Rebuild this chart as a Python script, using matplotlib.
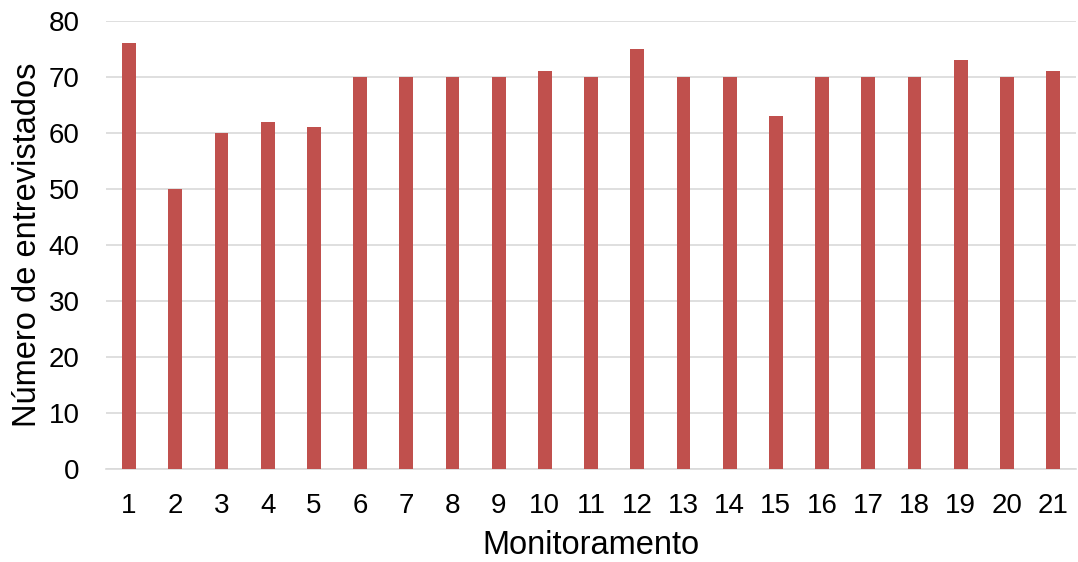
import matplotlib
matplotlib.use("Agg")
import matplotlib.pyplot as plt

plt.rcParams['font.family'] = ['Liberation Sans', 'DejaVu Sans']

monitoramentos = [str(i) for i in range(1, 22)]
entrevistados = [76, 50, 60, 62, 61, 70, 70, 70, 70, 71, 70, 75, 70, 70, 63, 70, 70, 70, 73, 70, 71]
y_ticks = [0, 10, 20, 30, 40, 50, 60, 70, 80]

fig = plt.figure(figsize=(10.78, 5.62), dpi=100)
ax = fig.add_axes([0.0983, 0.1655, 0.9, 0.7971])

x = list(range(len(monitoramentos)))
ax.bar(x, entrevistados, width=0.3, color='#C0504D', zorder=3)

ax.set_xlim(-0.5, len(monitoramentos) - 0.5)
ax.set_ylim(0, 80)
ax.set_yticks(y_ticks)
ax.set_xticks(x)
ax.set_xticklabels(monitoramentos)

ax.yaxis.grid(True, color='#D9D9D9', linewidth=1.2, zorder=0)
ax.set_axisbelow(True)
for s in ['top', 'right', 'left']:
    ax.spines[s].set_visible(False)
ax.spines['bottom'].set_color('#D9D9D9')
ax.spines['bottom'].set_linewidth(1.2)

ax.tick_params(axis='both', length=0, labelsize=20, colors='black')
ax.tick_params(axis='y', pad=19)
ax.tick_params(axis='x', pad=17)

ax.set_xlabel('Monitoramento', fontsize=23.5, labelpad=8)
ax.set_ylabel('Número de entrevistados', fontsize=23.5, labelpad=4)

fig.savefig('out.png', dpi=100)
